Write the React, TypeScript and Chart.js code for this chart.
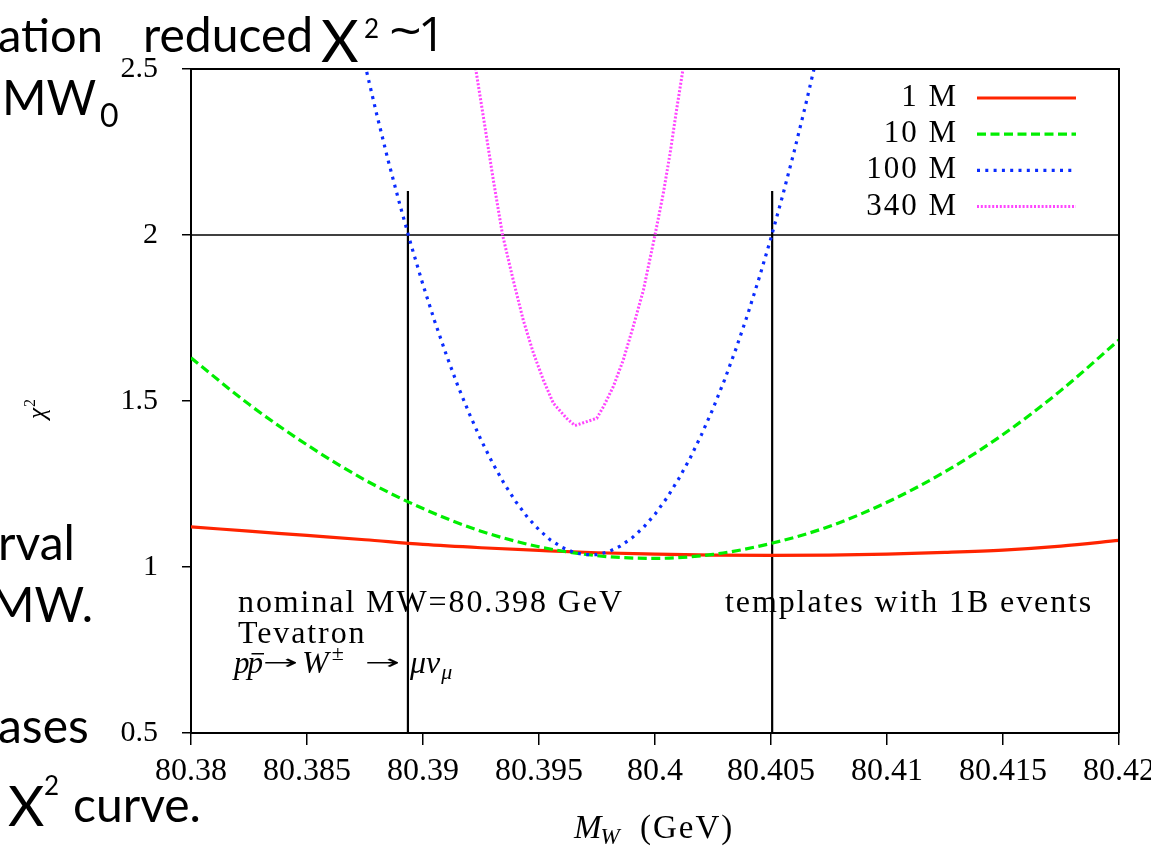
import React, { useEffect, useRef } from 'react';
import { Chart, registerables } from 'chart.js';

Chart.register(...registerables);

// ---------- data ----------
const xTickValues = [80.38, 80.385, 80.39, 80.395, 80.4, 80.405, 80.41, 80.415, 80.42];
const yTickValues = [0.5, 1, 1.5, 2, 2.5];

const seriesLabels = ['1 M', '10 M', '100 M', '340 M'];

const massGrid = [
  80.38, 80.3825, 80.385, 80.3875, 80.39, 80.3925, 80.395, 80.3975, 80.4,
  80.4025, 80.405, 80.4075, 80.41, 80.4125, 80.415, 80.4175, 80.42,
];
const chi2_1M = [
  1.121, 1.108, 1.095, 1.082, 1.068, 1.058, 1.05, 1.043, 1.039,
  1.036, 1.035, 1.036, 1.039, 1.044, 1.051, 1.063, 1.08,
];
const chi2_10M = [
  1.63, 1.49, 1.368, 1.262, 1.176, 1.108, 1.061, 1.034, 1.026,
  1.038, 1.071, 1.122, 1.195, 1.287, 1.399, 1.532, 1.684,
];

const mass100M = [
  80.3865, 80.387, 80.3875, 80.388, 80.3885, 80.389, 80.3895, 80.39, 80.3905,
  80.391, 80.3915, 80.392, 80.3925, 80.393, 80.3935, 80.394, 80.3945, 80.395,
  80.3955, 80.396, 80.3965, 80.397, 80.3975, 80.398, 80.3985, 80.399, 80.3995,
  80.4, 80.4005, 80.401, 80.4015, 80.402, 80.4025, 80.403, 80.4035, 80.404,
  80.4045, 80.405, 80.4055, 80.406, 80.4065, 80.407, 80.4075,
];
const chi2_100M = [
  2.833, 2.669, 2.513, 2.365, 2.224, 2.092, 1.967, 1.85, 1.741,
  1.64, 1.546, 1.461, 1.383, 1.313, 1.251, 1.197, 1.15, 1.112,
  1.081, 1.059, 1.044, 1.037, 1.037, 1.046, 1.063, 1.087, 1.119,
  1.159, 1.207, 1.263, 1.326, 1.398, 1.477, 1.564, 1.659, 1.762,
  1.873, 1.991, 2.118, 2.252, 2.394, 2.544, 2.702,
];

const mass340M = [
  80.3921, 80.39228, 80.39267, 80.39303, 80.39343, 80.39389, 80.39432, 80.39476,
  80.39519, 80.39562, 80.39619, 80.39655, 80.39749, 80.39778, 80.3982, 80.39863,
  80.39906, 80.3995, 80.4, 80.40036, 80.40065, 80.40093, 80.40119, 80.4013,
];
const chi2_340M = [
  2.57, 2.497, 2.326, 2.166, 2.0, 1.864, 1.744, 1.644,
  1.563, 1.493, 1.448, 1.426, 1.448, 1.483, 1.543, 1.623,
  1.724, 1.834, 2.0, 2.126, 2.246, 2.377, 2.492, 2.54,
];

const intervalEdges = [80.38935, 80.40505];
const intervalTop = 2.1325;
const chi2Threshold = 2;

const seriesColors = ['#ff2400', '#00ee00', '#0a2cff', '#ff44ff'];

// ---------- helpers ----------
const SERIF = '"Liberation Serif", "Times New Roman", serif';
const SANS = 'Lato, "Open Sans", sans-serif';
const toPoints = (xs: number[], ys: number[]) => xs.map((x, i) => ({ x, y: ys[i] }));

const framePlugin = {
  id: 'frame',
  afterDraw(chart: any) {
    const { ctx, chartArea: a } = chart;
    ctx.save();
    ctx.strokeStyle = '#000';
    ctx.lineWidth = 2;
    ctx.beginPath();
    ctx.moveTo(a.left, a.top);
    ctx.lineTo(a.right, a.top);
    ctx.lineTo(a.right, a.bottom);
    ctx.stroke();
    ctx.restore();
  },
};

const legendPlugin = {
  id: 'insideLegend',
  afterDatasetsDraw(chart: any) {
    const { ctx, chartArea: a } = chart;
    const items = chart.data.datasets.filter((d: any) => d.label);
    items.forEach((ds: any, i: number) => {
      const y = a.top + 29 + i * 36.2;
      ctx.save();
      ctx.font = `31px ${SERIF}`;
      (ctx as any).letterSpacing = '2px';
      ctx.textAlign = 'right';
      ctx.textBaseline = 'alphabetic';
      ctx.fillStyle = '#000';
      ctx.fillText(ds.label, a.right - 161, y + 8);
      (ctx as any).letterSpacing = '0px';
      ctx.strokeStyle = ds.borderColor;
      ctx.lineWidth = ds.borderWidth;
      ctx.setLineDash(ds.borderDash || []);
      ctx.beginPath();
      ctx.moveTo(a.right - 142, y);
      ctx.lineTo(a.right - 43, y);
      ctx.stroke();
      ctx.restore();
    });
  },
};

// draw text pieces in sequence; each piece may give an absolute x or a gap
function drawRun(ctx: CanvasRenderingContext2D, startX: number, baseY: number, parts: any[]) {
  let cx = startX;
  for (const p of parts) {
    ctx.font = p.font;
    (ctx as any).letterSpacing = (p.ls || 0) + 'px';
    const x = p.x !== undefined ? p.x : cx + (p.gap || 0);
    const y = baseY + (p.dy || 0);
    const sx = p.sx || 1;
    ctx.save();
    ctx.translate(x, y);
    ctx.scale(sx, 1);
    ctx.fillText(p.t, 0, 0);
    ctx.restore();
    const w = ctx.measureText(p.t).width * sx;
    if (p.bar) {
      ctx.fillRect(x + 4, y - 20, w - 3, 1.5);
    }
    cx = x + w;
  }
  (ctx as any).letterSpacing = '0px';
}

const textPlugin = {
  id: 'texts',
  afterDraw(chart: any) {
    const ctx: CanvasRenderingContext2D = chart.ctx;
    ctx.save();
    ctx.fillStyle = '#000';
    ctx.textBaseline = 'alphabetic';
    ctx.textAlign = 'left';

    // annotations inside plot
    const ann = `32px ${SERIF}`;
    drawRun(ctx, 238, 612, [{ t: 'nominal MW=80.398 GeV', font: ann, ls: 1.9 }]);
    drawRun(ctx, 238, 643, [{ t: 'Tevatron', font: ann, ls: 1.9 }]);
    drawRun(ctx, 725, 612, [{ t: 'templates with 1B events', font: ann, ls: 1.9 }]);

    const it = `italic 31px ${SERIF}`;
    const arrow = `20px "DejaVu Sans", sans-serif`;
    drawRun(ctx, 234, 673, [
      { t: 'p', font: it },
      { t: 'p', font: it, gap: -2, bar: true },
      { t: '→', font: arrow, x: 263, dy: -4, sx: 2.1 },
      { t: 'W', font: `italic 32px ${SERIF}`, x: 302 },
      { t: '±', font: `22px ${SERIF}`, gap: 3, dy: -13 },
      { t: '→', font: arrow, x: 365, dy: -4, sx: 2.1 },
      { t: 'μν', font: `italic 32px ${SERIF}`, x: 410 },
      { t: 'μ', font: `italic 22px ${SERIF}`, gap: 1, dy: 6 },
    ]);

    // x axis title
    drawRun(ctx, 574, 838, [
      { t: 'M', font: `italic 33px ${SERIF}` },
      { t: 'W', font: `italic 23px ${SERIF}`, gap: -1, dy: 6 },
      { t: '(GeV)', font: `33px ${SERIF}`, x: 640, ls: 2 },
    ]);

    // y axis title
    ctx.save();
    ctx.translate(45, 419);
    ctx.rotate(-Math.PI / 2);
    drawRun(ctx, 0, 0, [
      { t: 'χ', font: `italic 25px ${SERIF}` },
      { t: '2', font: `16px ${SERIF}`, gap: 1, dy: -10 },
    ]);
    ctx.restore();

    // slide overlay text
    const big = `48px ${SANS}`;
    const os = `48px "Open Sans", ${SANS}`;
    drawRun(ctx, -2, 52, [{ t: 'ation', font: `47px ${SANS}` }]);
    drawRun(ctx, 143, 52, [{ t: 'reduced', font: big }]);
    drawRun(ctx, 321, 62, [{ t: 'Χ', font: `58px ${SANS}` }]);
    drawRun(ctx, 364, 38, [{ t: '2', font: `26px ${SANS}` }]);
    drawRun(ctx, 389, 48, [{ t: '~', font: os, sx: 1.2 }]);
    drawRun(ctx, 418, 51, [{ t: '1', font: os }]);
    drawRun(ctx, 2, 115, [
      { t: 'MW', font: big },
      { t: '0', font: `32px ${SANS}`, x: 100, dy: 12 },
    ]);
    drawRun(ctx, -2, 560, [{ t: 'rval', font: big }]);
    drawRun(ctx, -10, 622, [{ t: 'MW.', font: big }]);
    drawRun(ctx, -2, 743, [{ t: 'ases', font: big }]);
    drawRun(ctx, 8, 826, [{ t: 'Χ', font: `56px ${SANS}` }]);
    drawRun(ctx, 44, 795, [{ t: '2', font: `26px ${SANS}` }]);
    drawRun(ctx, 73, 822, [{ t: 'curve.', font: big }]);
    ctx.restore();
  },
};

export default function App() {
  const canvasRef = useRef<HTMLCanvasElement | null>(null);

  useEffect(() => {
    document.body.style.margin = '0';
    document.body.style.background = '#fff';
    const canvas = canvasRef.current;
    if (!canvas) return;

    const lineDs = (x0: number, y0: number, x1: number, y1: number, w: number) => ({
      data: [{ x: x0, y: y0 }, { x: x1, y: y1 }],
      borderColor: '#000',
      borderWidth: w,
      pointRadius: 0,
      tension: 0,
      order: 10,
    });

    const chart = new Chart(canvas, {
      type: 'line',
      data: {
        datasets: [
          {
            label: seriesLabels[0],
            data: toPoints(massGrid, chi2_1M),
            borderColor: seriesColors[0],
            borderWidth: 3.2,
            pointRadius: 0,
            cubicInterpolationMode: 'monotone',
            order: 4,
          },
          {
            label: seriesLabels[1],
            data: toPoints(massGrid, chi2_10M),
            borderColor: seriesColors[1],
            borderWidth: 3.2,
            borderDash: [9, 4.5],
            pointRadius: 0,
            cubicInterpolationMode: 'monotone',
            order: 3,
          },
          {
            label: seriesLabels[2],
            data: toPoints(mass100M, chi2_100M),
            borderColor: seriesColors[2],
            borderWidth: 3.2,
            borderDash: [3, 5.3],
            pointRadius: 0,
            tension: 0,
            order: 2,
          },
          {
            label: seriesLabels[3],
            data: toPoints(mass340M, chi2_340M),
            borderColor: seriesColors[3],
            borderWidth: 3,
            borderDash: [2, 1.8],
            pointRadius: 0,
            tension: 0,
            order: 1,
          },
          lineDs(intervalEdges[0], 0.5, intervalEdges[0], intervalTop, 2.2),
          lineDs(intervalEdges[1], 0.5, intervalEdges[1], intervalTop, 2.2),
          lineDs(xTickValues[0], chi2Threshold, xTickValues[xTickValues.length - 1], chi2Threshold, 1.6),
        ] as any,
      },
      options: {
        animation: false,
        responsive: false,
        devicePixelRatio: 1,
        events: [],
        layout: { padding: { left: 0, top: 69, right: 32, bottom: 0 } },
        plugins: { legend: { display: false }, tooltip: { enabled: false } },
        scales: {
          x: {
            type: 'linear',
            min: xTickValues[0],
            max: xTickValues[xTickValues.length - 1],
            afterBuildTicks: (s: any) => {
              s.ticks = xTickValues.map((v) => ({ value: v }));
            },
            afterFit: (s: any) => {
              s.height = 115;
              s.paddingLeft = 0;
              s.paddingRight = 0;
            },
            ticks: {
              callback: (v: any) => String(v),
              font: { family: SERIF, size: 32 },
              color: '#000',
              padding: 7,
              maxRotation: 0,
              autoSkip: false,
            },
            grid: { drawOnChartArea: false, drawTicks: true, tickLength: 12, color: '#000', lineWidth: 1.5 },
            border: { display: true, color: '#000', width: 2 },
          },
          y: {
            type: 'linear',
            min: yTickValues[0],
            max: yTickValues[yTickValues.length - 1],
            afterBuildTicks: (s: any) => {
              s.ticks = yTickValues.map((v) => ({ value: v }));
            },
            afterFit: (s: any) => {
              s.width = 191;
              s.paddingTop = 0;
              s.paddingBottom = 0;
            },
            ticks: {
              callback: (v: any) => String(v),
              font: { family: SERIF, size: 30 },
              color: '#000',
              padding: 24,
              autoSkip: false,
            },
            grid: { drawOnChartArea: false, drawTicks: true, tickLength: 9, color: '#000', lineWidth: 1.5 },
            border: { display: true, color: '#000', width: 2 },
          },
        },
      } as any,
      plugins: [framePlugin, legendPlugin, textPlugin],
    });

    return () => chart.destroy();
  }, []);

  return (
    <div style={{ width: 1151, height: 848, position: 'relative', overflow: 'hidden', background: '#fff' }}>
      <canvas ref={canvasRef} width={1151} height={848} style={{ display: 'block' }} />
    </div>
  );
}
